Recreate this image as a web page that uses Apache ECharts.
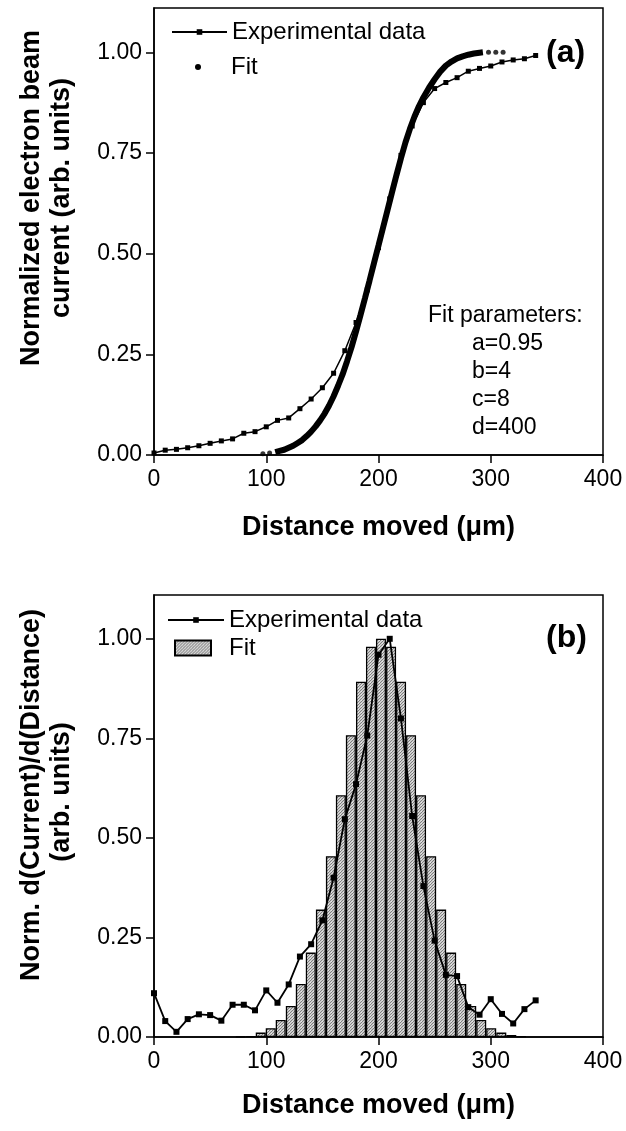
<!DOCTYPE html>
<html><head><meta charset="utf-8">
<script src="https://cdn.jsdelivr.net/npm/echarts@6/dist/echarts.min.js"></script>
<style>html,body{margin:0;padding:0;background:#fff}#c{width:626px;height:1131px}</style>
</head><body><div id="c"></div>
<script>
// ---- data ----
const distance = [0,10,20,30,40,50,60,70,80,90,100,110,120,130,140,150,160,170,180,190,200,210,220,230,240,250,260,270,280,290,300,310,320,330,340];
const currentExp = [0.005,0.012,0.014,0.018,0.023,0.029,0.035,0.040,0.054,0.058,0.070,0.086,0.092,0.115,0.139,0.167,0.203,0.259,0.329,0.410,0.515,0.636,0.744,0.817,0.875,0.910,0.925,0.937,0.953,0.960,0.966,0.976,0.981,0.984,0.992];
const fitCurveX = [108,112,116,120,124,128,132,136,140,144,148,152,156,160,164,168,172,176,180,184,188,192,196,200,204,208,212,216,220,224,228,232,236,240,245,250,255,260,265,270,275,280,285,290,293];
const fitCurveY = [0.007,0.010,0.013,0.018,0.023,0.030,0.037,0.047,0.058,0.071,0.086,0.103,0.123,0.146,0.172,0.200,0.233,0.268,0.307,0.348,0.390,0.433,0.477,0.520,0.564,0.608,0.652,0.695,0.737,0.776,0.810,0.840,0.866,0.888,0.912,0.933,0.952,0.967,0.977,0.985,0.990,0.994,0.997,0.999,1.000];
const fitDotsX = [97,103,298,304.5,311];
const fitDotsY = [0.003,0.005,1.000,1.000,1.000];
const derivExp = [0.110,0.040,0.013,0.045,0.057,0.055,0.041,0.081,0.081,0.067,0.117,0.086,0.132,0.202,0.233,0.293,0.400,0.547,0.635,0.757,0.960,1.000,0.800,0.555,0.379,0.242,0.156,0.153,0.075,0.056,0.095,0.058,0.034,0.070,0.092];
const fitBarX = [77.2,86.2,95.1,104.0,112.9,121.9,130.8,139.7,148.7,157.6,166.5,175.4,184.4,193.3,202.2,211.2,220.1,229.0,237.9,246.9,255.8,264.7,273.7,282.6,291.5,300.4,309.4,318.3,327.2];
const fitBarY = [0.001,0.002,0.011,0.022,0.043,0.078,0.133,0.212,0.320,0.454,0.607,0.758,0.892,0.980,1.000,0.980,0.892,0.758,0.607,0.454,0.320,0.212,0.133,0.078,0.043,0.022,0.011,0.005,0.002];
const yTicks = [0,0.25,0.5,0.75,1.0];
const fitParams = ['a=0.95','b=4','c=8','d=400'];

const zip = (xs, ys) => xs.map((x, i) => [x, ys[i]]);
const FONT = '"Liberation Sans", Arial, Helvetica, sans-serif';

// halftone pattern for the fit bars
const pc = document.createElement('canvas');
pc.width = 3; pc.height = 3;
const pctx = pc.getContext('2d');
pctx.fillStyle = '#cfcfcf'; pctx.fillRect(0,0,3,3);
pctx.fillStyle = '#7c7c7c'; pctx.fillRect(0,0,1,1); pctx.fillRect(1,2,1,1); pctx.fillRect(2,1,1,1);
pctx.fillStyle = '#e6e6e6'; pctx.fillRect(1,1,1,1);
const barPattern = {image: pc, repeat: 'repeat'};

function xAxisCfg(gridIndex, nameGap) {
  return {
    type: 'value', gridIndex, min: 0, max: 400, interval: 100,
    axisLine: {show: true, onZero: false, lineStyle: {color: '#000', width: 1.5}},
    axisTick: {show: true, inside: false, length: 8, lineStyle: {color: '#000', width: 1.5}},
    axisLabel: {color: '#000', fontSize: 23, fontFamily: FONT, margin: 13},
    splitLine: {show: false},
    name: 'Distance moved (\u03bcm)', nameLocation: 'middle', nameGap,
    nameTextStyle: {color: '#000', fontSize: 27, fontWeight: 'bold', fontFamily: FONT}
  };
}
function yAxisCfg(gridIndex) {
  return {
    type: 'value', gridIndex, min: 0, max: 1.11,
    axisLine: {show: true, onZero: false, lineStyle: {color: '#000', width: 1.5}},
    axisTick: {show: true, inside: false, length: 8, customValues: yTicks, lineStyle: {color: '#000', width: 1.5}},
    axisLabel: {color: '#000', fontSize: 23, fontFamily: FONT, margin: 12, customValues: yTicks,
      formatter: v => v.toFixed(2)},
    splitLine: {show: false}
  };
}
const legText = {color: '#000', fontSize: 24, fontFamily: FONT};
const stripB = n => n.replace(' (b)', '');

function txt(x, y, text, size, weight, align, rot) {
  return {type: 'text', x, y, rotation: rot || 0, silent: true,
    style: {text, fill: '#000', fontSize: size, fontWeight: weight || 'normal', fontFamily: FONT,
      align: align || 'left', verticalAlign: 'middle', textAlign: align || 'left', textVerticalAlign: 'middle'}};
}

const chart = echarts.init(document.getElementById('c'), null, {renderer: 'canvas'});
chart.setOption({
  animation: false,
  backgroundColor: '#fff',
  grid: [
    {left: 154, right: 23, top: 8, height: 447, show: true, borderColor: '#000', borderWidth: 1.5, backgroundColor: 'transparent', outerBoundsMode: 'none'},
    {left: 154, right: 23, top: 595, height: 442, show: true, borderColor: '#000', borderWidth: 1.5, backgroundColor: 'transparent', outerBoundsMode: 'none'}
  ],
  xAxis: [xAxisCfg(0, 59), xAxisCfg(1, 55)],
  yAxis: [yAxisCfg(0), yAxisCfg(1)],
  legend: [
    {data: [{name: 'Experimental data'}], left: 171, top: 20, itemWidth: 55, itemHeight: 7, padding: 0, selectedMode: false, textStyle: legText},
    {data: [{name: 'Fit', icon: 'circle'}], left: 195, top: 55, itemWidth: 56, itemHeight: 6, padding: 0, selectedMode: false, textStyle: legText},
    {data: [{name: 'Experimental data (b)'}], left: 167, top: 608, itemWidth: 56, itemHeight: 7, padding: 0, selectedMode: false, textStyle: legText, formatter: stripB},
    {data: [{name: 'Fit (b)', icon: 'rect'}], left: 174, top: 636, itemWidth: 36, itemHeight: 15, padding: 0, selectedMode: false,
      textStyle: Object.assign({padding: [0,0,0,13]}, legText), formatter: stripB}
  ],
  graphic: [
    txt(32, 198, 'Normalized electron beam', 27, 'bold', 'center', Math.PI/2),
    txt(62, 198, 'current (arb. units)', 27, 'bold', 'center', Math.PI/2),
    txt(32, 795, 'Norm. d(Current)/d(Distance)', 27, 'bold', 'center', Math.PI/2),
    txt(62, 792, '(arb. units)', 27, 'bold', 'center', Math.PI/2),
    txt(546, 53, '(a)', 32, 'bold'),
    txt(546, 638, '(b)', 32, 'bold'),
    txt(428, 316, 'Fit parameters:', 23),
    txt(472, 344, fitParams[0], 23),
    txt(472, 372, fitParams[1], 23),
    txt(472, 400, fitParams[2], 23),
    txt(472, 428, fitParams[3], 23)
  ],
  series: [
    {name: 'Fit', type: 'line', xAxisIndex: 0, yAxisIndex: 0, data: zip(fitCurveX, fitCurveY),
      showSymbol: false, symbol: 'circle', lineStyle: {color: '#000', width: 6}, itemStyle: {color: '#000'}, z: 2},
    {name: 'Fit', type: 'scatter', xAxisIndex: 0, yAxisIndex: 0, data: zip(fitDotsX, fitDotsY),
      symbol: 'circle', symbolSize: 5, itemStyle: {color: '#000'}, z: 2},
    {name: 'Experimental data', type: 'line', xAxisIndex: 0, yAxisIndex: 0, data: zip(distance, currentExp),
      symbol: 'rect', symbolSize: 5, showAllSymbol: true, lineStyle: {color: '#000', width: 1.5}, itemStyle: {color: '#000'}, z: 3},
    {name: 'Fit (b)', type: 'bar', xAxisIndex: 1, yAxisIndex: 1, data: zip(fitBarX, fitBarY), barWidth: 10,
      itemStyle: {color: barPattern, borderColor: '#000', borderWidth: 1.3}, z: 2},
    {name: 'Experimental data (b)', type: 'line', xAxisIndex: 1, yAxisIndex: 1, data: zip(distance, derivExp),
      symbol: 'rect', symbolSize: 6, showAllSymbol: true, lineStyle: {color: '#000', width: 1.8}, itemStyle: {color: '#000'}, z: 3}
  ]
});
</script></body></html>
